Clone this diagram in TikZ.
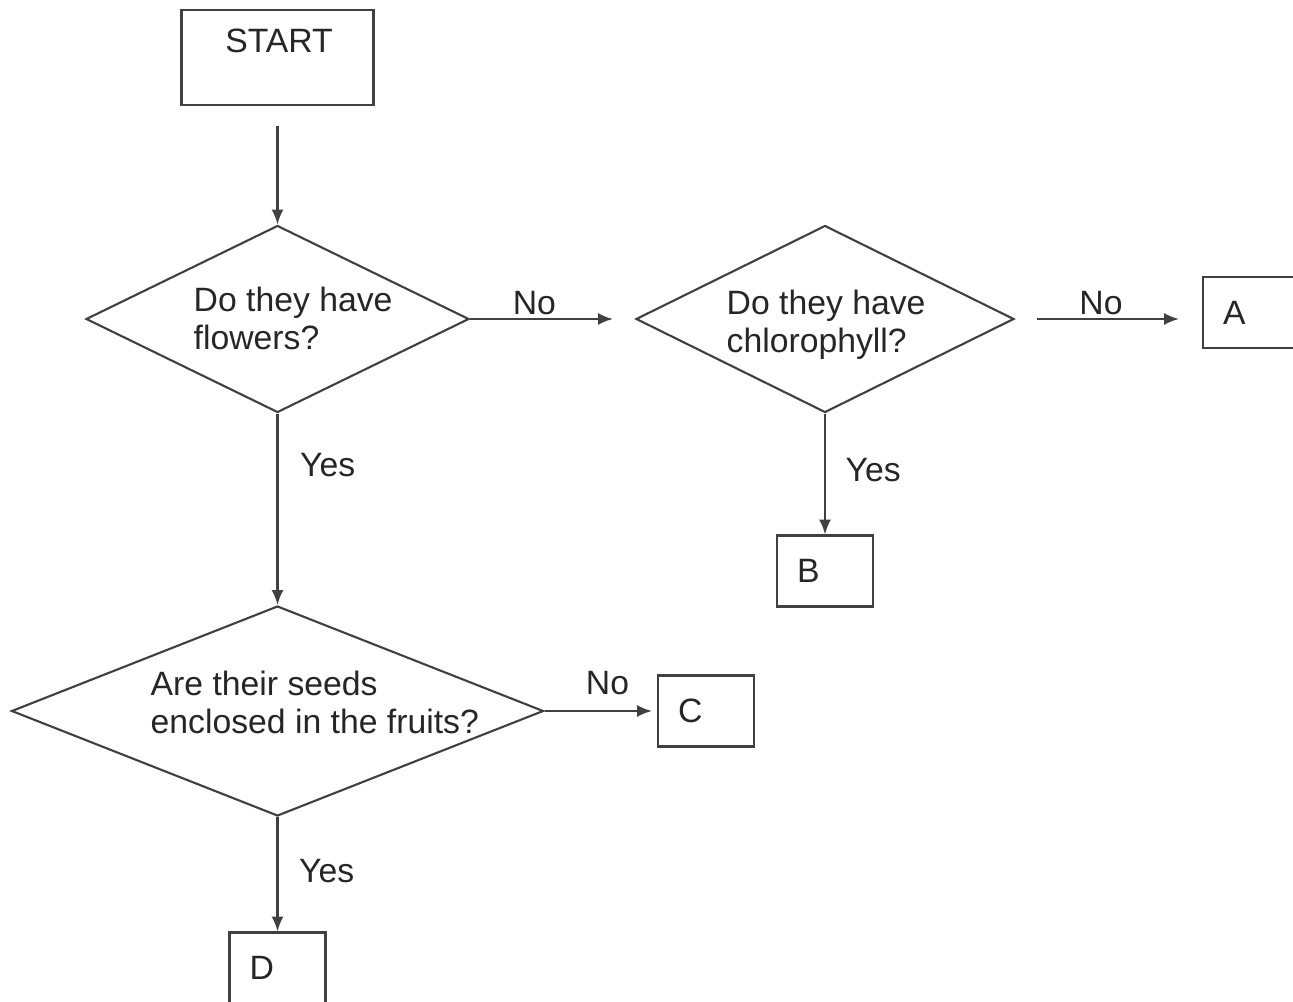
\documentclass[tikz,border=0pt]{standalone}
\usepackage{fontspec}
\setmainfont{Liberation Sans}
\usetikzlibrary{shapes.geometric,arrows.meta}

\begin{document}
\begin{tikzpicture}[every node/.style={font=\fontsize{9.6}{10.8}\selectfont, text=black!85},
  flow/.style={draw=black!75, line width=0.6pt, -{Latex[length=4.2pt,width=3.4pt]}},
  dia/.style={draw=black!75, line width=0.6pt, diamond, inner sep=0pt},
  box/.style={draw=black!75, line width=0.6pt, rectangle, inner sep=0pt},
  letterbox/.style={box, text width=0.56cm, inner xsep=0.2cm, align=left, minimum height=0.71cm},
  qtext/.style={inner sep=0pt, align=left, anchor=west},
  tag/.style={inner sep=1pt}]
\useasboundingbox (0,0) rectangle (12.93,-10.02);
\node[box, minimum width=1.92cm, minimum height=0.95cm] (start) at (2.775,-0.575) {};
\node[inner sep=0pt] (starttext) at (2.79,-0.41) {START};
\node[dia, minimum width=3.83cm, minimum height=1.87cm] (flowers) at (2.775,-3.19) {};
\node[qtext] (flowerstext) at (1.93,-3.18) {Do they have\\flowers?};
\node[dia, minimum width=3.78cm, minimum height=1.87cm] (chloro) at (8.25,-3.19) {};
\node[qtext] (chlorotext) at (7.26,-3.25) {Do they have\\chlorophyll?};
\node[dia, minimum width=5.32cm, minimum height=2.10cm] (seeds) at (2.775,-7.11) {};
\node[qtext] (seedstext) at (1.50,-7.02) {Are their seeds\\enclosed in the fruits?};
\node[letterbox] (A) at (12.51,-3.125) {A};
\node[letterbox] (B) at (8.25,-5.71) {B};
\node[letterbox] (C) at (7.06,-7.11) {C};
\node[letterbox] (D) at (2.775,-9.68) {D};
\draw[flow, shorten <=0.2cm] (start.south) -- (flowers.north);
\draw[flow, shorten >=0.22cm] (flowers.east) -- node[tag, pos=0.39, above] {No} (chloro.west);
\draw[flow, shorten <=0.22cm, shorten >=0.23cm] (chloro.east) -- node[tag, pos=0.46, above] {No} (chloro.east -| A.west);
\draw[flow] (chloro.south) -- node[tag, pos=0.47, right, xshift=0.16cm] {Yes} (B.north);
\draw[flow] (flowers.south) -- node[tag, pos=0.27, right, xshift=0.18cm] {Yes} (seeds.north);
\draw[flow, shorten >=0.05cm] (seeds.east) -- node[tag, pos=0.56, above, yshift=0.12cm] {No} (C.west);
\draw[flow] (seeds.south) -- node[tag, pos=0.47, right, xshift=0.17cm] {Yes} (D.north);
\end{tikzpicture}
\end{document}
